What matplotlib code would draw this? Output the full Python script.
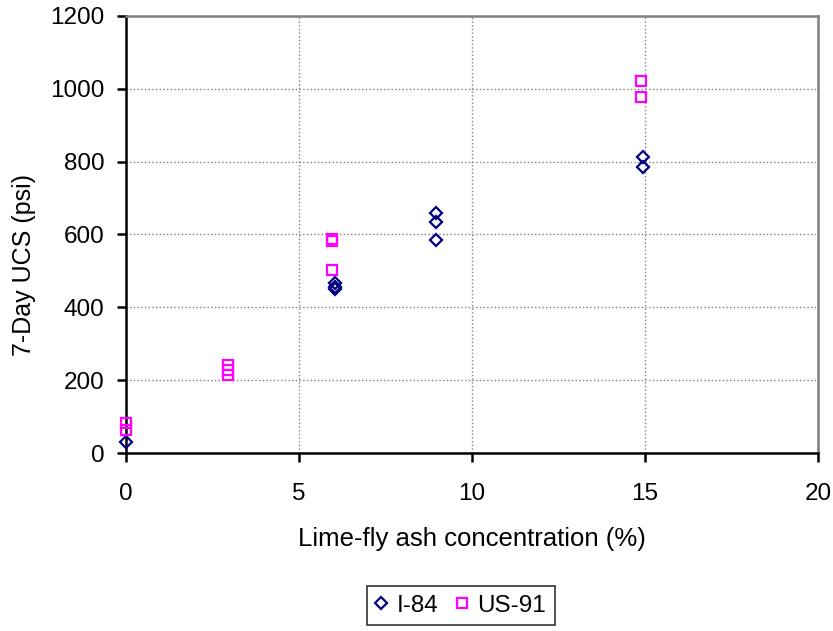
import matplotlib
matplotlib.use("Agg")
import matplotlib.pyplot as plt

plt.rcParams['font.family'] = ['Liberation Sans', 'DejaVu Sans']

# I-84 data (lime-fly ash %, 7-day UCS psi)
i84_x = [0, 6.05, 6.05, 6.05, 8.95, 8.95, 8.95, 14.95, 14.95]
i84_y = [30, 468, 457, 449, 658, 633, 586, 812, 786]

# US-91 data
us91_x = [0, 0, 2.95, 2.95, 2.95, 5.95, 5.95, 5.95, 14.9, 14.9]
us91_y = [83, 63, 242, 228, 215, 588, 582, 502, 1020, 978]

fig = plt.figure(figsize=(8.33, 6.31), dpi=100)
ax = fig.add_axes([0.151, 0.282, 0.831, 0.693])

ax.plot(i84_x, i84_y, linestyle='none', marker='D', markersize=6.5,
        markerfacecolor='none', markeredgecolor='#000080', markeredgewidth=1.6,
        label='I-84', clip_on=False, zorder=3)
ax.plot(us91_x, us91_y, linestyle='none', marker='s', markersize=7.5,
        markerfacecolor='none', markeredgecolor='#FF00FF', markeredgewidth=1.6,
        label='US-91', clip_on=False, zorder=3)

ax.set_xlim(0, 20)
ax.set_ylim(0, 1200)
ax.set_xticks([0, 5, 10, 15, 20])
ax.set_yticks([0, 200, 400, 600, 800, 1000, 1200])
ax.grid(True, color='#808080', linestyle=':', linewidth=1)
ax.set_axisbelow(True)

for side in ['left', 'bottom']:
    ax.spines[side].set_linewidth(1.8)
    ax.spines[side].set_color('black')
for side in ['top', 'right']:
    ax.spines[side].set_linewidth(1.8)
    ax.spines[side].set_color('#808080')

ax.tick_params(direction='out', length=6.5, width=1.8, labelsize=17.5)
ax.tick_params(axis='x', pad=15)
ax.tick_params(axis='y', pad=9)
ax.set_xlabel('Lime-fly ash concentration (%)', fontsize=18.5, labelpad=16)
ax.set_ylabel('7-Day UCS (psi)', fontsize=18)
ax.yaxis.set_label_coords(-0.13, 0.431)

leg = fig.legend(loc='center', bbox_to_anchor=(0.553, 0.04), ncol=2,
                 fontsize=17.5, frameon=True, fancybox=False, handlelength=0.5,
                 handletextpad=0.4, columnspacing=0.7, borderpad=0.35,
                 borderaxespad=0)
leg.get_frame().set_edgecolor('black')
leg.get_frame().set_linewidth(1.2)

fig.savefig('out.png', dpi=100)
